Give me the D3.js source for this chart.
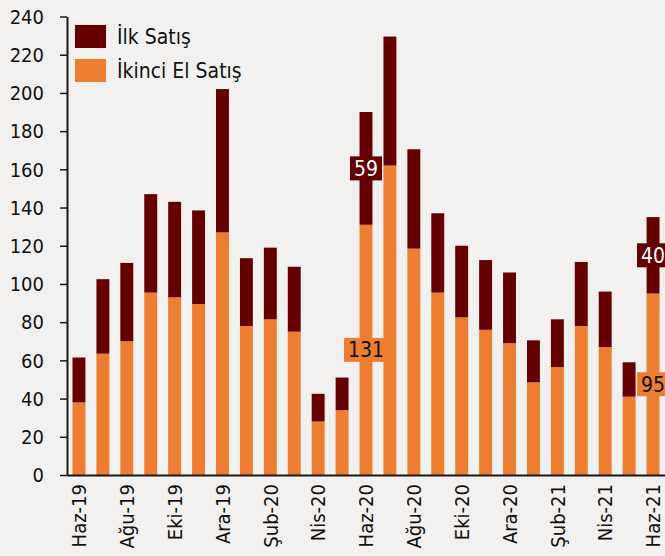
<!DOCTYPE html>
<html><head><meta charset="utf-8">
<script src="https://cdn.jsdelivr.net/npm/d3@7"></script>
<style>
html,body{margin:0;padding:0;background:#f2f1ef;}
svg{display:block;}
text{font-family:"DejaVu Sans Condensed","DejaVu Sans",sans-serif;font-stretch:condensed;}
</style></head>
<body>
<svg id="chart" width="665" height="556"></svg>
<script>
const months = ["Haz-19","Tem-19","Ağu-19","Eyl-19","Eki-19","Kas-19","Ara-19","Oca-20","Şub-20","Mar-20","Nis-20","May-20","Haz-20","Tem-20","Ağu-20","Eyl-20","Eki-20","Kas-20","Ara-20","Oca-21","Şub-21","Mar-21","Nis-21","May-21","Haz-21"];
const ikinciEl = [38, 63.5, 70, 95.5, 93, 89.5, 127, 78, 81.5, 75, 28, 34, 131, 162, 118.5, 95.5, 82.5, 76, 69, 48.5, 56.5, 78, 67, 41, 95];
const ilkSatis = [23.5, 39, 41, 51.5, 50, 49, 75, 35.5, 37.5, 34, 14.5, 17, 59, 67.5, 52, 41.5, 37.5, 36.5, 37, 22, 25, 33.5, 29, 18, 40];
const seriesNames = ["İlk Satış", "İkinci El Satış"];
const yTicks = [0,20,40,60,80,100,120,140,160,180,200,220,240];
const shownLabels = ["Haz-19","Ağu-19","Eki-19","Ara-19","Şub-20","Nis-20","Haz-20","Ağu-20","Eki-20","Ara-20","Şub-21","Nis-21","Haz-21"];
const labelledMonths = ["Haz-20","Haz-21"];

(function(){
const colors = {ilk:"#640000", ikinci:"#ed7d31"};
const svg = d3.select("#chart");
const mLeft = 67, mRight = 665, mTop = 16.5, mBottom = 475;

const x = d3.scaleBand().domain(months).range([mLeft, mRight]).paddingInner(0.46).paddingOuter(0.23);
const y = d3.scaleLinear().domain([0, 240]).range([mBottom, mTop]);

const data = months.map((m,i) => ({m, ikinci: ikinciEl[i], ilk: ilkSatis[i]}));

const g = svg.append("g");
g.selectAll("rect.ik").data(data).join("rect")
  .attr("x", d => x(d.m)).attr("width", x.bandwidth())
  .attr("y", d => y(d.ikinci)).attr("height", d => y(0) - y(d.ikinci))
  .attr("fill", colors.ikinci);
g.selectAll("rect.il").data(data).join("rect")
  .attr("x", d => x(d.m)).attr("width", x.bandwidth())
  .attr("y", d => y(d.ikinci + d.ilk)).attr("height", d => y(d.ikinci) - y(d.ikinci + d.ilk))
  .attr("fill", colors.ilk);

const yAxis = d3.axisLeft(y).tickValues(yTicks).tickSize(7).tickSizeOuter(0).tickPadding(16);
const ya = svg.append("g").attr("transform", `translate(${mLeft},0)`).call(yAxis);
ya.select(".domain").attr("stroke", "#1a1a1a").attr("stroke-width", 2);
ya.selectAll(".tick line").attr("stroke", "#1a1a1a").attr("stroke-width", 1.5);
ya.selectAll(".tick text").attr("font-size", 20).attr("fill", "#111").attr("font-family", null).attr("dy", "0.34em");

const xAxis = d3.axisBottom(x).tickValues(shownLabels).tickSize(0).tickSizeOuter(0).tickPadding(9);
const xa = svg.append("g").attr("transform", `translate(0,${mBottom})`).call(xAxis);
xa.select(".domain").attr("stroke", "#1a1a1a").attr("stroke-width", 2);
xa.selectAll(".tick text").attr("font-size", 20).attr("fill", "#111").attr("font-family", null)
  .attr("text-anchor", "end").attr("transform", "rotate(-90)")
  .attr("x", -9).attr("y", 0).attr("dy", "0.36em");

data.filter(d => labelledMonths.includes(d.m)).forEach(d => {
  const cx = x(d.m) + x.bandwidth()/2;
  const segs = [
    {v: d.ikinci, cy: (y(0) + y(d.ikinci))/2, bg: colors.ikinci, fg: "#111"},
    {v: d.ilk, cy: (y(d.ikinci) + y(d.ikinci + d.ilk))/2, bg: colors.ilk, fg: "#fff"}
  ];
  segs.forEach(s => {
    const lg = svg.append("g");
    const t = lg.append("text").attr("x", cx).attr("y", s.cy).attr("dy", "0.36em")
      .attr("text-anchor", "middle").attr("font-size", 21).attr("fill", s.fg).text(Math.round(s.v));
    const bb = t.node().getBBox();
    lg.insert("rect", "text").attr("x", bb.x - 4).attr("y", s.cy - 12).attr("width", bb.width + 8).attr("height", 24).attr("fill", s.bg);
  });
});

const legend = svg.append("g");
const legItems = [{name: seriesNames[0], c: colors.ilk, y: 25}, {name: seriesNames[1], c: colors.ikinci, y: 59}];
legItems.forEach(it => {
  legend.append("rect").attr("x", 75).attr("y", it.y).attr("width", 31).attr("height", 23).attr("fill", it.c);
  legend.append("text").attr("x", 117).attr("y", it.y + 18.5).attr("font-size", 21).attr("fill", "#111").text(it.name);
});
})();
</script>
</body></html>
